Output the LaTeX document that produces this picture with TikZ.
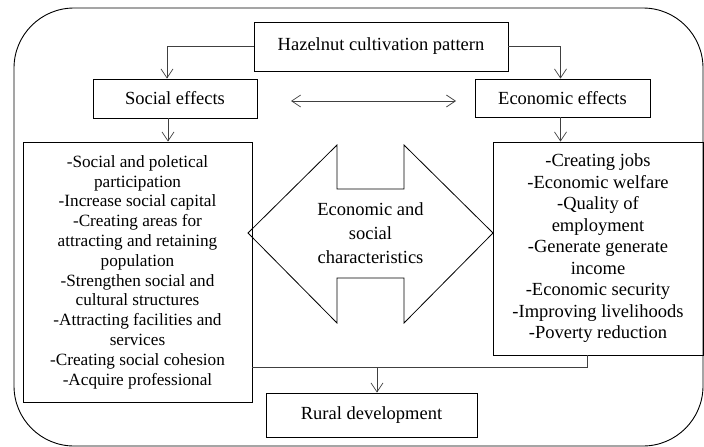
\documentclass[tikz,border=0pt]{standalone}
\usepackage{fontspec}
\setmainfont{Liberation Serif}
\usetikzlibrary{arrows.meta}

\begin{document}
\begin{tikzpicture}[
    x=1pt,y=-1pt,
    >={Straight Barb[length=9pt,width=12pt]},
    box/.style={
      draw,line width=0.9pt,inner sep=0pt,align=center,
      font=\fontsize{18.5}{24}\selectfont
    },
    listbox/.style={
      box,
      font=\fontsize{17.2}{19.8}\selectfont
    },
    econbox/.style={
      box,
      font=\fontsize{18.5}{21.5}\selectfont
    },
    joint/.style={
      draw=black!75,line width=0.7pt
    },
    link/.style={
      joint,->
    },
    frame/.style={
      draw,line width=0.9pt,rounded corners=60pt
    },
    bigarrow/.style={
      draw,line width=0.8pt,line join=miter
    }]

      \useasboundingbox (0,0) rectangle (704,447);
      \draw[frame] (14,8) rectangle (703,446);

      % top row
      \node[box,minimum width=254,minimum height=49] (hazel) at (381,46.5) {Hazelnut cultivation pattern};
      \node[box,minimum width=164,minimum height=39] (social) at (175,98.5) {Social effects};
      \node[box,minimum width=175,minimum height=38] (econ) at (562.5,98) {Economic effects};

      % lists
      \node[listbox,minimum width=229,minimum height=260] (sociallist) at (137.5,272) {-Social and poletical\\participation\\-Increase social capital\\-Creating areas for\\attracting and retaining\\population\\-Strengthen social and\\cultural structures\\-Attracting facilities and\\services\\-Creating social cohesion\\-Acquire professional};
      \node[econbox,minimum width=210,minimum height=213] (econlist) at (598,248.5) {-Creating jobs\\-Economic welfare\\-Quality of\\employment\\-Generate generate\\income\\-Economic security\\-Improving livelihoods\\-Poverty reduction};

      % middle double arrow
      \draw[bigarrow] (248,233) -- (337,145) -- (337,189) -- (404,189) -- (404,145) -- (493,233)
        -- (404,323) -- (404,278) -- (337,278) -- (337,323) -- cycle;
      \node[box,draw=none] (charac) at (370.5,233) {Economic and\\social\\characteristics};

      \node[box,minimum width=211,minimum height=44] (rural) at (371.5,415) {Rural development};

      % connectors
      \draw[link] (hazel.west) -| ([xshift=-8]social.north);
      \draw[link] (hazel.east) -| ([xshift=-2]econ.north);
      \draw[link] ([xshift=-7]social.south) -- ([xshift=-7]social.south |- sociallist.north);
      \draw[link] ([xshift=-2]econ.south) -- ([xshift=-2]econ.south |- econlist.north);
      \coordinate (pairl) at (291,101);
      \coordinate (pairr) at (456,101);
      \draw[joint,<->] (pairl) -- (pairr);

      \coordinate (junc) at (377,367);
      \draw[joint] ([xshift=-11]econlist.south) |- (sociallist.east |- junc);
      \draw[link] (junc) -- (junc |- rural.north);
  \end{tikzpicture}
\end{document}
